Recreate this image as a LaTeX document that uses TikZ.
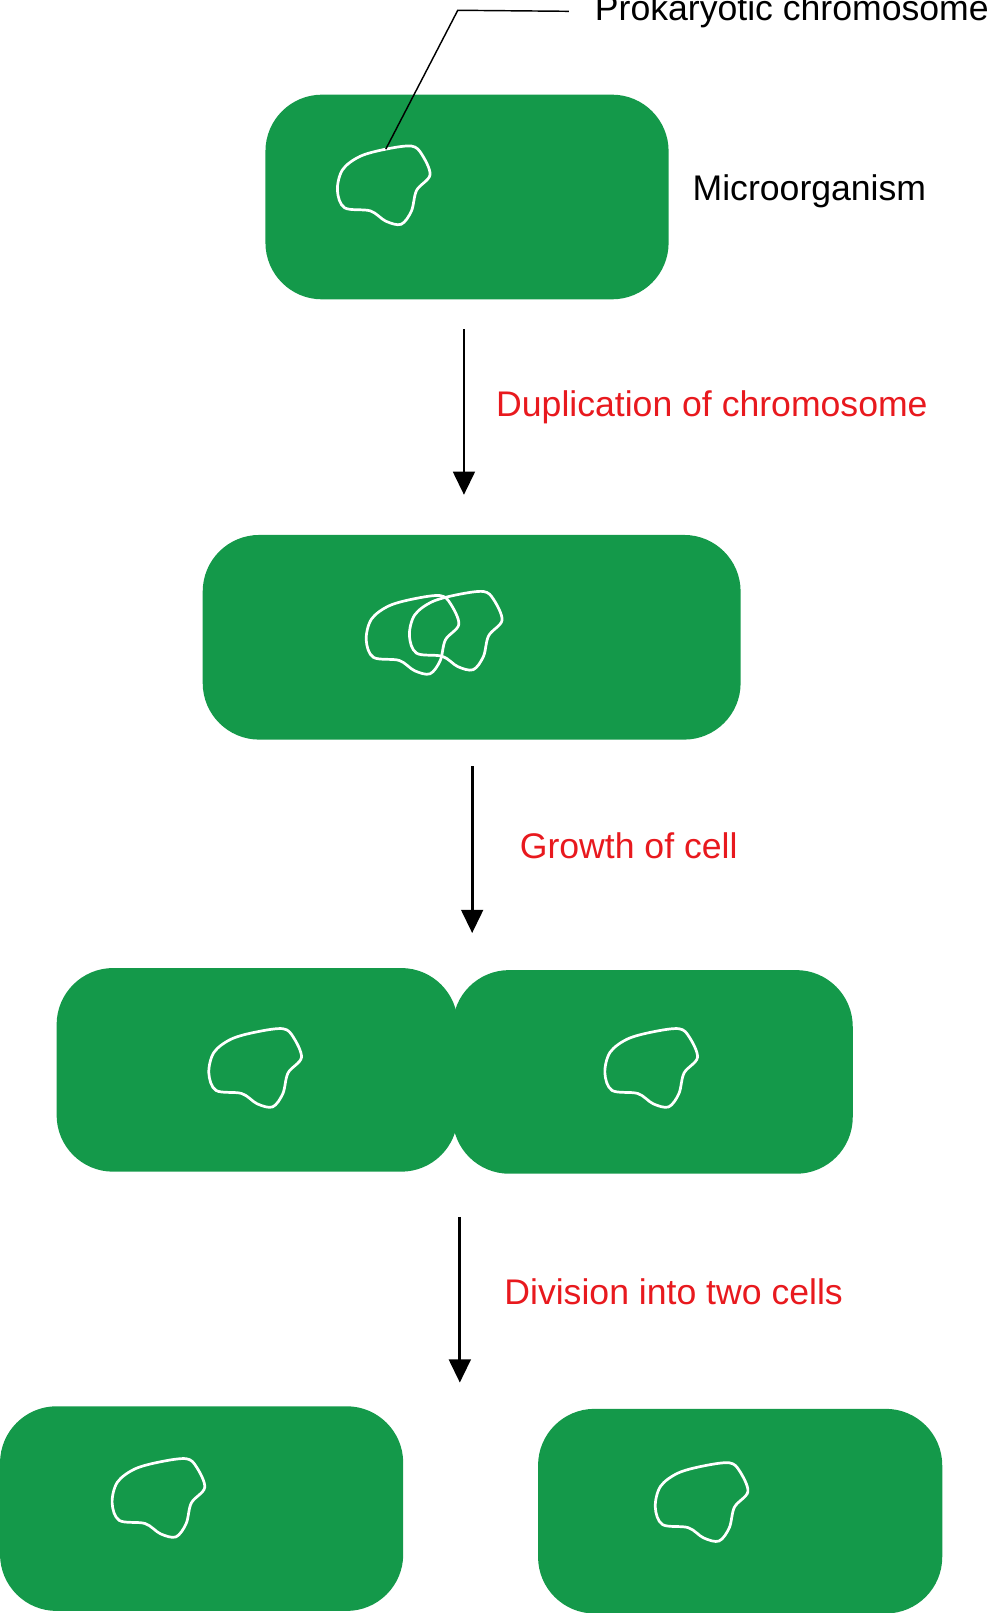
\documentclass[tikz,border=0pt]{standalone}
\usepackage{fontspec}
\setmainfont{Liberation Sans}
\usetikzlibrary{arrows.meta}
\definecolor{cellgreen}{HTML}{14994A}
\definecolor{labred}{HTML}{E8191E}
\begin{document}
\begin{tikzpicture}[x=0.02cm,y=-0.02cm,
 cell/.style={fill=cellgreen,draw=none,rounded corners=1.1cm,minimum height=3.98cm,inner sep=0},
 arr/.style={-{Triangle[length=0.45cm,width=0.42cm]},line width=1.6pt},
 lab/.style={anchor=west,font=\fontsize{19.7}{22}\selectfont,inner sep=0},
 chromo/.pic={\draw[white,line width=1.5pt] plot[smooth cycle,tension=0.55] coordinates{(-39,-15)(-22,-28)(3,-35)(28,-38)(38,-30)(46,-10)(33,5)(28,25)(18,38)(3,35)(-12,25)(-37,22)(-44,5)};}]
\useasboundingbox (0,0) rectangle (972,1568);
\node[cell,minimum width=7.84cm] (c1) at (454,191.5) {};
\node[cell,minimum width=10.46cm] (c2) at (458.5,619.5) {};
\node[cell,minimum width=7.8cm,minimum height=3.96cm] (c3a) at (250,1040) {};
\node[cell,minimum width=7.78cm,minimum height=3.96cm] (c3b) at (634.5,1042) {};
\node[cell,minimum width=7.84cm] (c4a) at (196,1466.5) {};
\node[cell,minimum width=7.86cm] (c4b) at (719.5,1469) {};
\pic at (372,180) {chromo};
\pic at (400,617) {chromo};
\pic at (442,613) {chromo};
\pic at (247,1038) {chromo};
\pic at (632,1038) {chromo};
\pic at (153,1456) {chromo};
\pic at (681,1460) {chromo};
\coordinate (a1s) at (451,320); \coordinate (a1e) at (451,481);
\coordinate (a2s) at (459,745); \coordinate (a2e) at (459,907);
\coordinate (a3s) at (447,1183); \coordinate (a3e) at (447,1344);
\draw[arr] (a1s) -- (a1e);
\draw[arr] (a2s) -- (a2e);
\draw[arr] (a3s) -- (a3e);
\node[lab,text=labred] (l1) at (482,396) {Duplication of chromosome};
\node[lab,text=labred] (l2) at (505,822) {Growth of cell};
\node[lab,text=labred] (l3) at (490,1256) {Division into two cells};
\node[lab] (l4) at (673,186) {Microorganism};
\node[lab] (l5) at (578,11) {Prokaryotic chromosome};
\coordinate (k1) at (445,10); \coordinate (k2) at (375,145);
\draw[line width=0.8pt] (l5.west) ++(-25,0) coordinate (k0) -- (k1) -- (k2);
\end{tikzpicture}
\end{document}
